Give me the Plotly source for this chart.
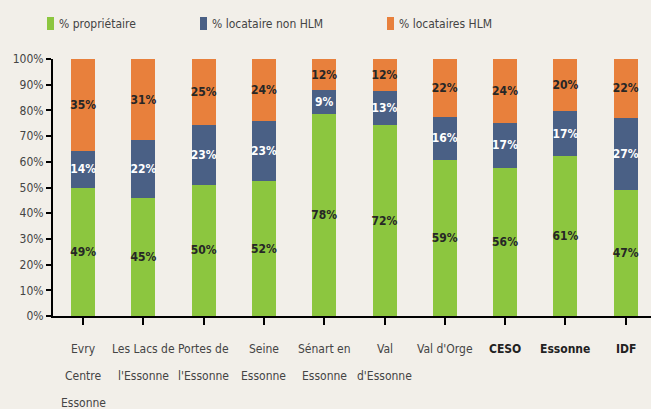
import plotly.graph_objects as go

# ---- data ----
categories = ["Evry\nCentre\nEssonne", "Les Lacs de\nl'Essonne", "Portes de\nl'Essonne",
              "Seine\nEssonne", "Sénart en\nEssonne", "Val\nd'Essonne", "Val d'Orge",
              "CESO", "Essonne", "IDF"]
bold_categories = ["CESO", "Essonne", "IDF"]
series_names = ["% propriétaire", "% locataire non HLM", "% locataires HLM"]
proprietaire = [49, 45, 50, 52, 78, 72, 59, 56, 61, 47]
locataire_non_hlm = [14, 22, 23, 23, 9, 13, 16, 17, 17, 27]
locataires_hlm = [35, 31, 25, 24, 12, 12, 22, 24, 20, 22]
y_ticks = [0, 10, 20, 30, 40, 50, 60, 70, 80, 90, 100]

colors = ["#8CC63F", "#4A6085", "#E8803C"]
label_colors = ["#262626", "#FFFFFF", "#262626"]
bg = "#F2EFE9"
FONT = "DejaVu Sans Condensed, DejaVu Sans, sans-serif"

xs = list(range(len(categories)))
fig = go.Figure()
for name, vals, col, lc in zip(series_names,
                                [proprietaire, locataire_non_hlm, locataires_hlm],
                                colors, label_colors):
    fig.add_trace(go.Bar(
        x=xs, y=vals, name=name, marker=dict(color=col, line=dict(width=0)),
        width=0.4, text=vals, texttemplate="<b>%{text}%</b>",
        textposition="inside", insidetextanchor="middle", textangle=0,
        constraintext="none",
        textfont=dict(family=FONT, size=12, color=lc),
        showlegend=False, hoverinfo="skip",
    ))

# category labels (one annotation per line for the wide line spacing)
annotations = []
for i, cat in enumerate(categories):
    bold = cat in bold_categories
    for j, line in enumerate(cat.split("\n")):
        annotations.append(dict(
            x=i, y=0, xref="x", yref="y", yanchor="middle", xanchor="center",
            yshift=-33 - 27 * j, showarrow=False,
            text=f"<b>{line}</b>" if bold else line,
            font=dict(family=FONT, size=12, color="#222222" if bold else "#444444"),
        ))

# custom legend
legend_x = [47, 200, 387]
shapes = []
for name, col, lx in zip(series_names, colors, legend_x):
    shapes.append(dict(type="rect", xref="paper", yref="paper",
                       x0=(lx - 53) / 598, x1=(lx + 7 - 53) / 598,
                       y0=(316 - 30) / 257, y1=(316 - 17) / 257,
                       fillcolor=col, line=dict(width=0)))
    annotations.append(dict(x=(lx + 10 - 53) / 598, y=(316 - 23.5) / 257,
                            xref="paper", yref="paper", xanchor="left", yanchor="middle",
                            showarrow=False, text=name,
                            font=dict(family=FONT, size=12, color="#444444")))

fig.update_layout(
    width=651, height=409,
    margin=dict(l=53, r=0, t=59, b=93),
    paper_bgcolor=bg, plot_bgcolor=bg,
    barmode="stack", barnorm="percent", bargap=0.6,
    annotations=annotations, shapes=shapes,
    font=dict(family=FONT, size=12, color="#444444"),
    xaxis=dict(range=[-0.5, 9.42], tickmode="array", tickvals=xs,
               showticklabels=False, tickson="boundaries", ticks="outside",
               ticklen=7, tickwidth=2, tickcolor="#000000",
               showline=True, linecolor="#000000", linewidth=2,
               showgrid=False, zeroline=False, fixedrange=True),
    yaxis=dict(range=[0, 100], tickvals=y_ticks,
               ticktext=[f"{v}%" for v in y_ticks],
               ticks="outside", ticklen=5, tickwidth=2, tickcolor="#000000",
               showline=True, linecolor="#000000", linewidth=2,
               showgrid=False, zeroline=False, fixedrange=True,
               tickfont=dict(family=FONT, size=12, color="#444444")),
)

post = ("document.body.style.margin='0';document.body.style.overflow='hidden';"
        "document.querySelectorAll('text').forEach(function(t){t.style.fontStretch='condensed';});")
fig.write_html("out.html", post_script=post, config={"displayModeBar": False})
